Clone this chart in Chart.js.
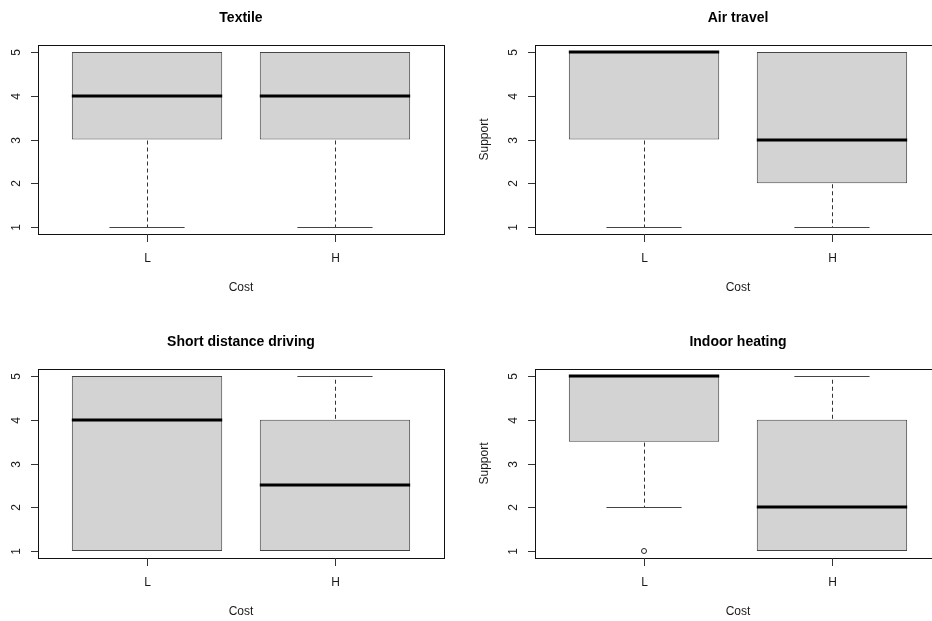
<!DOCTYPE html>
<html>
<head>
<meta charset="utf-8">
<script src="https://cdn.jsdelivr.net/npm/chart.js@4.4.1/dist/chart.umd.min.js"></script>
<style>
  html, body { margin: 0; padding: 0; background: #fff; }
  body { position: relative; width: 932px; height: 621px; overflow: hidden; }
  canvas { position: absolute; }
</style>
</head>
<body>
<canvas id="p0"></canvas>
<canvas id="p1"></canvas>
<canvas id="p2"></canvas>
<canvas id="p3"></canvas>
<script>
// data, one row per panel, one entry per cost group (L, H)
const panelTitles = ['Textile', 'Air travel', 'Short distance driving', 'Indoor heating'];
const costLabels = ['L', 'H'];
const yTicks = [1, 2, 3, 4, 5];
const whiskerLow  = [[1, 1], [1, 1], [1, 1], [2, 1]];
const q1          = [[3, 3], [3, 2], [1, 1], [3.5, 1]];
const median      = [[4, 4], [5, 3], [4, 2.5], [5, 2]];
const q3          = [[5, 5], [5, 5], [5, 4], [5, 4]];
const whiskerHigh = [[5, 5], [5, 5], [5, 5], [5, 5]];
const outliers    = [[[], []], [[], []], [[], []], [[1], []]];

const xLabel = 'Cost';
const yLabel = 'Support';

// layout of the 2x2 grid (canvas placement + plot region inside it)
const panels = [
  { left: 0,   top: 0,   w: 466, h: 310, area: [38, 45, 444, 234], ylab: false },
  { left: 466, top: 0,   w: 480, h: 310, area: [69, 45, 475, 234], ylab: true },
  { left: 0,   top: 310, w: 466, h: 311, area: [38, 59, 444, 248], ylab: false },
  { left: 466, top: 310, w: 480, h: 311, area: [69, 59, 475, 248], ylab: true }
];

const FONT = '"Liberation Sans", Arial, sans-serif';
const boxWidth = 0.8;

function crisp(v) { return Math.round(v) + 0.5; }

const rboxPlugin = {
  id: 'rbox',
  afterDatasetsDraw(chart, args, opts) {
    const i = opts.panel;
    const { ctx } = chart;
    const x = chart.scales.x, y = chart.scales.y;
    ctx.save();
    costLabels.forEach((lab, g) => {
      const cx = x.getPixelForValue(g + 1);
      const capL = x.getPixelForValue(g + 1 - boxWidth / 4);
      const capR = x.getPixelForValue(g + 1 + boxWidth / 4);
      const bl = x.getPixelForValue(g + 1 - boxWidth / 2);
      const br = x.getPixelForValue(g + 1 + boxWidth / 2);

      // whiskers + staples (only where they reach beyond the box)
      const ends = [];
      ctx.lineWidth = 1;
      ctx.strokeStyle = '#333';
      ctx.setLineDash([4, 3]);
      ctx.beginPath();
      if (whiskerHigh[i][g] > q3[i][g]) {
        ctx.moveTo(crisp(cx), y.getPixelForValue(q3[i][g]) - 1);
        ctx.lineTo(crisp(cx), y.getPixelForValue(whiskerHigh[i][g]));
        ends.push(whiskerHigh[i][g]);
      }
      if (whiskerLow[i][g] < q1[i][g]) {
        ctx.moveTo(crisp(cx), y.getPixelForValue(q1[i][g]) + 1);
        ctx.lineTo(crisp(cx), y.getPixelForValue(whiskerLow[i][g]));
        ends.push(whiskerLow[i][g]);
      }
      ctx.stroke();
      ctx.setLineDash([]);

      ctx.strokeStyle = '#444';
      ctx.beginPath();
      ends.forEach(v => {
        const py = crisp(y.getPixelForValue(v));
        ctx.moveTo(capL, py);
        ctx.lineTo(capR, py);
      });
      ctx.stroke();

      // median
      ctx.strokeStyle = '#000';
      ctx.lineWidth = 3;
      ctx.beginPath();
      const my = Math.round(y.getPixelForValue(median[i][g]));
      ctx.moveTo(bl, my);
      ctx.lineTo(br, my);
      ctx.stroke();
    });
    ctx.restore();
  },
  afterDraw(chart, args, opts) {
    const i = opts.panel;
    const { ctx, chartArea: a } = chart;
    const x = chart.scales.x, y = chart.scales.y;
    ctx.save();
    // plot frame
    ctx.strokeStyle = '#111';
    ctx.lineWidth = 1;
    ctx.strokeRect(crisp(a.left), crisp(a.top), Math.round(a.right - a.left), Math.round(a.bottom - a.top));

    ctx.fillStyle = '#1a1a1a';
    ctx.font = '12px ' + FONT;
    ctx.textAlign = 'center';
    ctx.textBaseline = 'middle';

    // y ticks (labels parallel to axis, like R)
    ctx.strokeStyle = '#333';
    y.ticks.forEach(t => {
      const py = crisp(y.getPixelForValue(t.value));
      ctx.beginPath();
      ctx.moveTo(a.left - 7, py);
      ctx.lineTo(a.left, py);
      ctx.stroke();
      ctx.save();
      ctx.translate(a.left - 21, py);
      ctx.rotate(-Math.PI / 2);
      ctx.fillText(String(t.value), 0, 0);
      ctx.restore();
    });

    // x ticks
    x.ticks.forEach((t, k) => {
      const px = crisp(x.getPixelForValue(t.value));
      ctx.beginPath();
      ctx.moveTo(px, a.bottom);
      ctx.lineTo(px, a.bottom + 8);
      ctx.stroke();
      ctx.fillText(costLabels[k], px, a.bottom + 25);
    });

    // axis titles
    const midX = (a.left + a.right) / 2;
    ctx.fillText(xLabel, midX, a.bottom + 54);
    if (opts.ylab) {
      ctx.save();
      ctx.translate(a.left - 50, (a.top + a.bottom) / 2);
      ctx.rotate(-Math.PI / 2);
      ctx.fillText(yLabel, 0, 0);
      ctx.restore();
    }

    // main title
    ctx.fillStyle = '#000';
    ctx.font = 'bold 14px ' + FONT;
    ctx.fillText(panelTitles[i], midX, a.top - 27);
    ctx.restore();
  }
};

panels.forEach((p, i) => {
  const cv = document.getElementById('p' + i);
  cv.width = p.w;
  cv.height = p.h;
  cv.style.left = p.left + 'px';
  cv.style.top = p.top + 'px';
  const [al, at, ar, ab] = p.area;

  const boxes = costLabels.map((lab, g) => ({ x: g + 1, y: [q1[i][g], q3[i][g]] }));
  const outPts = [];
  costLabels.forEach((lab, g) => outliers[i][g].forEach(v => outPts.push({ x: g + 1, y: v })));

  new Chart(cv, {
    type: 'bar',
    data: {
      datasets: [{
        type: 'bar',
        data: boxes,
        backgroundColor: '#d3d3d3',
        borderColor: '#444',
        borderWidth: 1,
        borderSkipped: false,
        barPercentage: boxWidth,
        categoryPercentage: 1
      }, {
        type: 'line',
        data: outPts,
        showLine: false,
        pointRadius: 2.5,
        pointBorderWidth: 1,
        pointBorderColor: '#222',
        pointBackgroundColor: '#fff'
      }]
    },
    options: {
      responsive: false,
      animation: false,
      events: [],
      layout: { padding: { left: al, top: at, right: p.w - ar, bottom: p.h - ab } },
      scales: {
        x: {
          type: 'linear', display: false, offset: false,
          min: 0.42, max: 2.58,
          afterBuildTicks: s => { s.ticks = costLabels.map((l, g) => ({ value: g + 1 })); }
        },
        y: {
          type: 'linear', display: false,
          min: 0.84, max: 5.16,
          afterBuildTicks: s => { s.ticks = yTicks.map(v => ({ value: v })); }
        }
      },
      plugins: {
        legend: { display: false },
        tooltip: { enabled: false },
        rbox: { panel: i, ylab: p.ylab }
      }
    },
    plugins: [rboxPlugin]
  });
});
</script>
</body>
</html>
